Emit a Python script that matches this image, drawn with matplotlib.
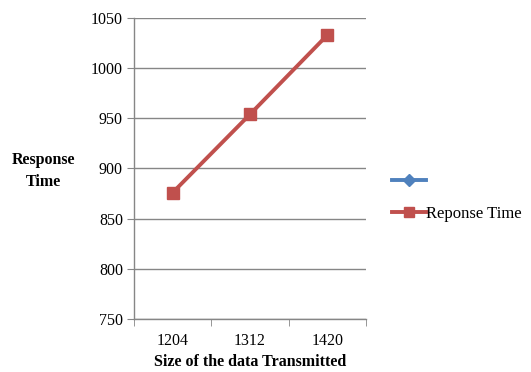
import matplotlib
matplotlib.use("Agg")
import matplotlib.pyplot as plt
from matplotlib.lines import Line2D
import numpy as np

categories = ["1204", "1312", "1420"]
response_time = [876, 954, 1033]
series_names = ["", "Reponse Time"]

plt.rcParams['font.family'] = ['Liberation Serif', 'DejaVu Serif']

fig = plt.figure(figsize=(5.31, 3.72), dpi=100)
ax = fig.add_axes([134/531, 1 - 319/372, (366-134)/531, (319-18)/372])

x = np.arange(len(categories))
ax.plot(x, response_time, color='#C0504D', lw=2.8, marker='s', ms=8,
        markerfacecolor='#C0504D', markeredgecolor='#C0504D', zorder=3)

ax.set_xlim(-0.5, len(categories) - 0.5)
ax.set_ylim(750, 1050)
ax.set_yticks(np.arange(750, 1051, 50))
ax.set_xticks(x)
ax.set_xticklabels(categories)
ax.set_xticks(np.arange(-0.5, len(categories), 1.0), minor=True)
ax.tick_params(axis='x', which='major', length=0, pad=10, labelsize=11.5)
ax.tick_params(axis='x', which='minor', length=5, color='#868686', direction='out')
ax.tick_params(axis='y', length=5, color='#868686', direction='out', labelsize=11.5, pad=3)

ax.grid(axis='y', color='#868686', lw=1)
ax.set_axisbelow(True)
for s in ['top', 'right']:
    ax.spines[s].set_visible(False)
for s in ['left', 'bottom']:
    ax.spines[s].set_color('#868686')
    ax.spines[s].set_linewidth(1)

ax.set_xlabel("Size of the data Transmitted", fontsize=11.5, fontweight='bold', labelpad=4)
fig.text(43/531, 1 - 171/372, "Response\nTime", fontsize=11.5, fontweight='bold',
         ha='center', va='center', linespacing=1.45)

handles = [
    Line2D([], [], color='#4F81BD', lw=2.8, marker='D', ms=6, markerfacecolor='#4F81BD'),
    Line2D([], [], color='#C0504D', lw=2.8, marker='s', ms=7, markerfacecolor='#C0504D'),
]
fig.legend(handles, series_names, loc='center left', bbox_to_anchor=(384/531, 1 - 198/372),
           frameon=False, fontsize=12, handlelength=2.0, handletextpad=0.05,
           labelspacing=1.0, borderpad=0)

fig.savefig("out.png", dpi=100)
